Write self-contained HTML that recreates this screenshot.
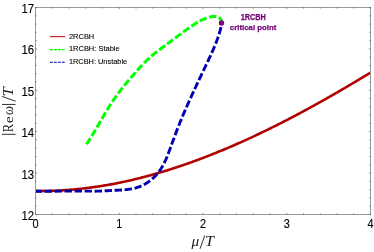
<!DOCTYPE html>
<html><head><meta charset="utf-8">
<style>
html,body{margin:0;padding:0;background:#fff;}
body{width:374px;height:252px;overflow:hidden;font-family:"Liberation Sans",sans-serif;}
svg{display:block;will-change:transform;opacity:0.999}
</style></head><body>
<svg width="374" height="252" viewBox="0 0 374 252">
<rect width="374" height="252" fill="#fff"/>
<g fill="none" stroke-linecap="butt">
<path d="M35.46 191.09 L36.67 191.10 L37.87 191.10 L39.08 191.10 L40.29 191.09 L41.50 191.08 L42.71 191.07 L43.92 191.05 L45.13 191.03 L46.34 191.01 L47.54 190.98 L48.75 190.95 L49.96 190.91 L51.17 190.87 L52.37 190.83 L53.58 190.78 L54.78 190.73 L55.99 190.68 L57.20 190.62 L58.40 190.56 L59.61 190.50 L60.81 190.43 L62.01 190.35 L63.22 190.28 L64.42 190.20 L65.62 190.12 L66.83 190.03 L68.03 189.94 L69.23 189.85 L70.43 189.75 L71.63 189.65 L72.83 189.54 L74.03 189.43 L75.23 189.32 L76.43 189.21 L77.63 189.09 L78.83 188.97 L80.03 188.84 L81.22 188.71 L82.42 188.58 L83.62 188.44 L84.81 188.30 L86.01 188.16 L87.20 188.01 L88.40 187.86 L89.59 187.70 L90.78 187.55 L91.98 187.39 L93.17 187.22 L94.36 187.05 L95.55 186.88 L96.74 186.71 L97.93 186.53 L99.12 186.35 L100.31 186.16 L101.50 185.98 L102.69 185.78 L103.87 185.59 L105.06 185.39 L106.25 185.19 L107.43 184.98 L108.61 184.77 L109.80 184.56 L110.98 184.35 L112.16 184.13 L113.35 183.91 L114.53 183.68 L115.71 183.45 L116.89 183.22 L118.07 182.99 L119.25 182.75 L120.42 182.51 L121.60 182.26 L122.78 182.01 L123.96 181.76 L125.13 181.51 L126.31 181.25 L127.48 180.99 L128.65 180.73 L129.83 180.46 L131.00 180.19 L132.17 179.92 L133.34 179.64 L134.51 179.36 L135.68 179.08 L136.85 178.80 L138.02 178.51 L139.18 178.22 L140.35 177.92 L141.51 177.63 L142.68 177.33 L143.84 177.03 L145.01 176.72 L146.17 176.41 L147.33 176.10 L148.49 175.79 L149.66 175.47 L150.82 175.15 L151.98 174.83 L153.13 174.51 L154.29 174.18 L155.45 173.85 L156.61 173.52 L157.76 173.18 L158.92 172.84 L160.07 172.50 L161.23 172.16 L162.38 171.81 L163.53 171.46 L164.68 171.11 L165.83 170.76 L166.98 170.40 L168.13 170.04 L169.28 169.68 L170.43 169.32 L171.58 168.95 L172.72 168.59 L173.87 168.21 L175.01 167.84 L176.16 167.47 L177.30 167.09 L178.44 166.71 L179.58 166.32 L180.73 165.94 L181.87 165.55 L183.01 165.16 L184.14 164.77 L185.28 164.37 L186.42 163.98 L187.56 163.58 L188.69 163.18 L189.83 162.77 L190.96 162.37 L192.09 161.96 L193.23 161.55 L194.36 161.14 L195.49 160.73 L196.62 160.31 L197.75 159.89 L198.88 159.47 L200.00 159.05 L201.13 158.62 L202.26 158.20 L203.38 157.77 L204.51 157.34 L205.63 156.91 L206.76 156.47 L207.88 156.04 L209.00 155.60 L210.12 155.16 L211.24 154.72 L212.36 154.27 L213.48 153.83 L214.59 153.38 L215.71 152.93 L216.83 152.48 L217.94 152.02 L219.06 151.57 L220.17 151.11 L221.28 150.65 L222.40 150.19 L223.51 149.73 L224.62 149.26 L225.73 148.80 L226.84 148.33 L227.95 147.86 L229.05 147.39 L230.16 146.91 L231.27 146.44 L232.37 145.96 L233.48 145.48 L234.58 145.00 L235.69 144.52 L236.79 144.04 L237.89 143.55 L238.99 143.06 L240.09 142.57 L241.19 142.08 L242.29 141.59 L243.39 141.10 L244.49 140.60 L245.58 140.10 L246.68 139.60 L247.77 139.10 L248.87 138.60 L249.96 138.10 L251.06 137.59 L252.15 137.09 L253.24 136.58 L254.33 136.07 L255.42 135.56 L256.51 135.04 L257.60 134.53 L258.69 134.01 L259.78 133.49 L260.86 132.97 L261.95 132.45 L263.04 131.93 L264.12 131.41 L265.20 130.88 L266.29 130.36 L267.37 129.83 L268.45 129.30 L269.53 128.77 L270.62 128.23 L271.70 127.70 L272.78 127.17 L273.85 126.63 L274.93 126.09 L276.01 125.55 L277.09 125.01 L278.16 124.47 L279.24 123.93 L280.31 123.38 L281.39 122.84 L282.46 122.29 L283.53 121.74 L284.61 121.19 L285.68 120.64 L286.75 120.09 L287.82 119.53 L288.89 118.98 L289.96 118.42 L291.03 117.86 L292.09 117.30 L293.16 116.75 L294.23 116.18 L295.29 115.62 L296.36 115.06 L297.42 114.49 L298.49 113.93 L299.55 113.36 L300.61 112.79 L301.67 112.22 L302.74 111.65 L303.80 111.08 L304.86 110.51 L305.92 109.94 L306.98 109.36 L308.03 108.78 L309.09 108.21 L310.15 107.63 L311.21 107.05 L312.26 106.47 L313.32 105.89 L314.37 105.31 L315.43 104.72 L316.48 104.14 L317.53 103.56 L318.59 102.97 L319.64 102.38 L320.69 101.79 L321.74 101.21 L322.79 100.62 L323.84 100.02 L324.89 99.43 L325.94 98.84 L326.99 98.25 L328.03 97.65 L329.08 97.06 L330.13 96.46 L331.17 95.86 L332.22 95.27 L333.26 94.67 L334.30 94.07 L335.35 93.47 L336.39 92.86 L337.43 92.26 L338.47 91.66 L339.52 91.06 L340.56 90.45 L341.60 89.85 L342.64 89.24 L343.67 88.63 L344.71 88.03 L345.75 87.42 L346.79 86.81 L347.83 86.20 L348.86 85.59 L349.90 84.98 L350.93 84.37 L351.97 83.75 L353.00 83.14 L354.04 82.53 L355.07 81.91 L356.10 81.30 L357.13 80.68 L358.16 80.07 L359.20 79.45 L360.23 78.83 L361.26 78.21 L362.29 77.59 L363.32 76.98 L364.34 76.36 L365.37 75.74 L366.40 75.12 L367.43 74.49 L368.45 73.87 L369.48 73.25 L370.50 72.63" stroke="#b00000" stroke-width="2.6"/>
<path d="M86.48 144.26 L86.85 143.71 L87.21 143.16 L87.57 142.61 L87.94 142.06 L88.30 141.51 L88.65 140.96 L89.01 140.40 L89.37 139.85 L89.72 139.29 L90.07 138.74 L90.42 138.18 L90.77 137.62 L91.12 137.06 L91.47 136.50 L91.81 135.94 L92.15 135.38 L92.50 134.82 L92.84 134.26 L93.18 133.70 L93.52 133.13 L93.86 132.57 L94.20 132.01 L94.53 131.44 L94.87 130.88 L95.20 130.31 L95.54 129.75 L95.87 129.18 L96.21 128.61 L96.54 128.05 L96.87 127.48 L97.20 126.91 L97.53 126.34 L97.87 125.78 L98.20 125.21 L98.53 124.64 L98.86 124.07 L99.19 123.50 L99.52 122.94 L99.85 122.37 L100.17 121.80 L100.50 121.23 L100.83 120.66 L101.16 120.10 L101.49 119.53 L101.82 118.96 L102.15 118.39 L102.48 117.83 L102.81 117.26 L103.15 116.69 L103.48 116.12 L103.81 115.56 L104.14 114.99 L104.48 114.43 L104.81 113.86 L105.14 113.30 L105.48 112.73 L105.81 112.17 L106.15 111.61 L106.49 111.05 L106.83 110.48 L107.17 109.92 L107.51 109.36 L107.85 108.80 L108.19 108.24 L108.54 107.69 L108.88 107.13 L109.23 106.57 L109.57 106.02 L109.92 105.46 L110.27 104.91 L110.62 104.35 L110.98 103.80 L111.33 103.25 L111.69 102.70 L112.05 102.15 L112.41 101.60 L112.77 101.06 L113.13 100.51 L113.50 99.97 L113.86 99.42 L114.23 98.88 L114.60 98.34 L114.97 97.80 L115.35 97.26 L115.73 96.72 L116.10 96.19 L116.49 95.65 L116.87 95.12 L117.25 94.59 L117.64 94.06 L118.03 93.53 L118.43 93.00 L118.82 92.48 L119.22 91.95 L119.62 91.43 L120.02 90.91 L120.42 90.39 L120.83 89.87 L121.23 89.35 L121.64 88.84 L122.05 88.32 L122.46 87.81 L122.88 87.29 L123.29 86.78 L123.71 86.27 L124.13 85.76 L124.54 85.25 L124.96 84.74 L125.39 84.24 L125.81 83.73 L126.23 83.22 L126.65 82.72 L127.08 82.21 L127.50 81.71 L127.93 81.21 L128.36 80.70 L128.78 80.20 L129.21 79.70 L129.64 79.20 L130.07 78.70 L130.50 78.20 L130.93 77.70 L131.36 77.20 L131.78 76.70 L132.21 76.21 L132.64 75.71 L133.07 75.21 L133.50 74.71 L133.93 74.22 L134.36 73.72 L134.79 73.22 L135.22 72.73 L135.65 72.24 L136.08 71.74 L136.52 71.25 L136.95 70.76 L137.38 70.27 L137.82 69.78 L138.25 69.29 L138.69 68.80 L139.13 68.32 L139.57 67.83 L140.01 67.35 L140.45 66.87 L140.90 66.39 L141.34 65.91 L141.79 65.43 L142.24 64.96 L142.69 64.48 L143.14 64.01 L143.60 63.54 L144.05 63.07 L144.51 62.60 L144.97 62.14 L145.44 61.67 L145.90 61.21 L146.37 60.76 L146.84 60.30 L147.31 59.85 L147.79 59.39 L148.27 58.94 L148.75 58.50 L149.23 58.05 L149.72 57.61 L150.21 57.17 L150.70 56.73 L151.20 56.30 L151.70 55.87 L152.20 55.44 L152.71 55.02 L153.22 54.59 L153.73 54.17 L154.24 53.75 L154.76 53.33 L155.28 52.92 L155.80 52.51 L156.32 52.10 L156.84 51.69 L157.37 51.28 L157.90 50.88 L158.42 50.47 L158.95 50.07 L159.48 49.67 L160.02 49.27 L160.55 48.87 L161.08 48.47 L161.61 48.08 L162.15 47.68 L162.68 47.29 L163.21 46.90 L163.75 46.51 L164.28 46.11 L164.81 45.72 L165.34 45.33 L165.87 44.94 L166.40 44.55 L166.93 44.17 L167.46 43.78 L167.99 43.39 L168.51 43.00 L169.04 42.61 L169.56 42.22 L170.09 41.84 L170.61 41.45 L171.13 41.06 L171.65 40.67 L172.17 40.29 L172.69 39.90 L173.20 39.51 L173.72 39.13 L174.24 38.74 L174.76 38.35 L175.27 37.97 L175.79 37.58 L176.31 37.19 L176.83 36.81 L177.34 36.42 L177.86 36.03 L178.38 35.65 L178.90 35.26 L179.42 34.88 L179.94 34.49 L180.46 34.11 L180.98 33.72 L181.50 33.34 L182.03 32.95 L182.55 32.57 L183.08 32.18 L183.60 31.80 L184.13 31.41 L184.66 31.03 L185.19 30.65 L185.73 30.26 L186.26 29.88 L186.80 29.49 L187.34 29.11 L187.88 28.73 L188.42 28.34 L188.96 27.96 L189.51 27.58 L190.06 27.20 L190.61 26.81 L191.16 26.43 L191.72 26.05 L192.28 25.67 L192.84 25.30 L193.40 24.92 L193.97 24.55 L194.54 24.18 L195.11 23.81 L195.68 23.45 L196.26 23.10 L196.83 22.74 L197.41 22.40 L198.00 22.05 L198.58 21.72 L199.17 21.39 L199.76 21.06 L200.35 20.75 L200.94 20.44 L201.54 20.14 L202.14 19.84 L202.74 19.56 L203.35 19.28 L203.95 19.01 L204.56 18.76 L205.17 18.51 L205.79 18.27 L206.40 18.05 L207.02 17.83 L207.64 17.63 L208.27 17.44 L208.89 17.26 L209.52 17.09 L210.15 16.94 L210.79 16.80 L211.42 16.68 L212.06 16.57 L212.69 16.48 L213.31 16.42 L213.93 16.39 L214.55 16.38 L215.15 16.40 L215.74 16.45 L216.32 16.54 L216.88 16.67 L217.43 16.84 L217.96 17.05 L218.47 17.30 L218.96 17.60 L219.43 17.95 L219.87 18.35 L220.28 18.81 L220.67 19.32 L221.03 19.89 L221.35 20.53 L221.64 21.23 L221.90 21.99 L222.12 22.82" stroke="#00ff00" stroke-width="3.0" stroke-dasharray="7.35 2.65" stroke-dashoffset="0.15"/>
<path d="M35.50 191.20 L89.98 191.13 L90.79 191.15 L91.60 191.17 L92.41 191.18 L93.21 191.19 L94.01 191.19 L94.81 191.19 L95.61 191.18 L96.40 191.17 L97.19 191.16 L97.98 191.14 L98.76 191.12 L99.55 191.10 L100.33 191.07 L101.11 191.04 L101.89 191.01 L102.67 190.97 L103.45 190.94 L104.23 190.90 L105.01 190.86 L105.79 190.82 L106.57 190.78 L107.35 190.73 L108.13 190.69 L108.91 190.65 L109.69 190.60 L110.48 190.56 L111.26 190.52 L112.05 190.48 L112.84 190.44 L113.63 190.40 L114.42 190.36 L115.22 190.32 L116.02 190.28 L116.82 190.25 L117.62 190.21 L118.42 190.17 L119.22 190.13 L120.03 190.09 L120.83 190.04 L121.64 189.99 L122.44 189.94 L123.25 189.88 L124.05 189.82 L124.85 189.75 L125.65 189.68 L126.45 189.59 L127.25 189.51 L128.05 189.41 L128.84 189.30 L129.63 189.19 L130.42 189.06 L131.21 188.93 L131.99 188.78 L132.77 188.63 L133.54 188.46 L134.31 188.28 L135.08 188.08 L135.84 187.87 L136.60 187.65 L137.35 187.41 L138.09 187.16 L138.83 186.90 L139.57 186.62 L140.30 186.32 L141.02 186.02 L141.73 185.70 L142.44 185.36 L143.15 185.02 L143.84 184.66 L144.54 184.28 L145.22 183.90 L145.89 183.50 L146.56 183.09 L147.23 182.67 L147.88 182.24 L148.53 181.80 L149.16 181.34 L149.80 180.88 L150.42 180.40 L151.03 179.91 L151.64 179.41 L152.23 178.90 L152.82 178.38 L153.40 177.85 L153.97 177.31 L154.53 176.76 L155.09 176.21 L155.63 175.64 L156.16 175.06 L156.68 174.48 L157.20 173.88 L157.70 173.28 L158.19 172.67 L158.67 172.05 L159.14 171.42 L159.61 170.78 L160.06 170.14 L160.50 169.49 L160.93 168.83 L161.35 168.17 L161.76 167.50 L162.16 166.82 L162.56 166.14 L162.94 165.45 L163.32 164.75 L163.69 164.05 L164.05 163.35 L164.41 162.64 L164.76 161.92 L165.10 161.21 L165.43 160.48 L165.76 159.76 L166.09 159.03 L166.40 158.29 L166.72 157.56 L167.03 156.82 L167.33 156.08 L167.63 155.34 L167.93 154.59 L168.22 153.84 L168.51 153.09 L168.79 152.34 L169.07 151.59 L169.35 150.84 L169.63 150.09 L169.91 149.34 L170.18 148.58 L170.45 147.83 L170.73 147.08 L171.00 146.33 L171.27 145.58 L171.54 144.83 L171.81 144.08 L172.08 143.34 L172.35 142.59 L172.62 141.85 L172.89 141.11 L173.16 140.37 L173.43 139.63 L173.70 138.89 L173.98 138.15 L174.25 137.41 L174.52 136.68 L174.80 135.94 L175.07 135.21 L175.34 134.47 L175.62 133.74 L175.90 133.01 L176.17 132.27 L176.45 131.54 L176.73 130.81 L177.01 130.08 L177.29 129.35 L177.58 128.62 L177.86 127.89 L178.14 127.16 L178.43 126.43 L178.72 125.70 L179.01 124.97 L179.30 124.24 L179.59 123.51 L179.88 122.78 L180.18 122.05 L180.47 121.32 L180.77 120.59 L181.07 119.86 L181.37 119.13 L181.67 118.40 L181.98 117.68 L182.28 116.95 L182.59 116.22 L182.90 115.49 L183.20 114.76 L183.51 114.03 L183.82 113.30 L184.14 112.57 L184.45 111.84 L184.76 111.11 L185.08 110.38 L185.40 109.66 L185.71 108.93 L186.03 108.20 L186.35 107.47 L186.67 106.74 L186.99 106.02 L187.31 105.29 L187.64 104.56 L187.96 103.84 L188.28 103.11 L188.61 102.39 L188.93 101.66 L189.26 100.94 L189.59 100.21 L189.92 99.49 L190.24 98.77 L190.57 98.04 L190.90 97.32 L191.23 96.60 L191.56 95.88 L191.89 95.16 L192.22 94.44 L192.56 93.72 L192.89 93.00 L193.22 92.28 L193.55 91.56 L193.89 90.84 L194.22 90.12 L194.55 89.40 L194.89 88.69 L195.22 87.97 L195.56 87.25 L195.89 86.54 L196.23 85.82 L196.56 85.11 L196.90 84.39 L197.24 83.67 L197.57 82.96 L197.91 82.25 L198.25 81.53 L198.58 80.82 L198.92 80.10 L199.26 79.39 L199.60 78.67 L199.93 77.96 L200.27 77.25 L200.61 76.53 L200.95 75.82 L201.29 75.11 L201.62 74.39 L201.96 73.68 L202.30 72.97 L202.64 72.25 L202.98 71.54 L203.32 70.82 L203.65 70.11 L203.99 69.40 L204.33 68.68 L204.67 67.97 L205.01 67.25 L205.35 66.54 L205.69 65.83 L206.02 65.11 L206.36 64.40 L206.70 63.68 L207.04 62.96 L207.38 62.25 L207.71 61.53 L208.05 60.82 L208.39 60.10 L208.72 59.38 L209.06 58.67 L209.40 57.95 L209.73 57.23 L210.07 56.51 L210.40 55.79 L210.73 55.07 L211.06 54.35 L211.39 53.63 L211.72 52.91 L212.05 52.18 L212.37 51.46 L212.69 50.74 L213.01 50.01 L213.33 49.29 L213.65 48.56 L213.96 47.83 L214.27 47.10 L214.57 46.37 L214.88 45.64 L215.18 44.91 L215.48 44.17 L215.77 43.44 L216.06 42.70 L216.35 41.97 L216.63 41.23 L216.91 40.49 L217.18 39.75 L217.45 39.00 L217.72 38.26 L217.98 37.52 L218.23 36.77 L218.49 36.02 L218.73 35.27 L218.97 34.52 L219.21 33.76 L219.44 33.01 L219.66 32.25 L219.88 31.49 L220.09 30.73 L220.30 29.97 L220.50 29.20 L220.69 28.43 L220.88 27.66 L221.06 26.89 L221.23 26.12 L221.40 25.35 L221.56 24.57 L221.71 23.79 L221.86 23.01" stroke="#0000b0" stroke-width="2.9" stroke-dasharray="7.38 2.64" stroke-dashoffset="1.02"/>
</g>
<circle cx="221.5" cy="23" r="2.7" fill="#800080"/>
<rect x="35.5" y="7.5" width="335.0" height="207.0" fill="none" stroke="#9a9a9a" stroke-width="1"/>
<path d="M35.50 215.00 v-2.20 M35.50 7.00 v2.20 M52.25 215.00 v-1.70 M52.25 7.00 v1.70 M69.00 215.00 v-1.70 M69.00 7.00 v1.70 M85.75 215.00 v-1.70 M85.75 7.00 v1.70 M102.50 215.00 v-1.70 M102.50 7.00 v1.70 M119.25 215.00 v-2.20 M119.25 7.00 v2.20 M136.00 215.00 v-1.70 M136.00 7.00 v1.70 M152.75 215.00 v-1.70 M152.75 7.00 v1.70 M169.50 215.00 v-1.70 M169.50 7.00 v1.70 M186.25 215.00 v-1.70 M186.25 7.00 v1.70 M203.00 215.00 v-2.20 M203.00 7.00 v2.20 M219.75 215.00 v-1.70 M219.75 7.00 v1.70 M236.50 215.00 v-1.70 M236.50 7.00 v1.70 M253.25 215.00 v-1.70 M253.25 7.00 v1.70 M270.00 215.00 v-1.70 M270.00 7.00 v1.70 M286.75 215.00 v-2.20 M286.75 7.00 v2.20 M303.50 215.00 v-1.70 M303.50 7.00 v1.70 M320.25 215.00 v-1.70 M320.25 7.00 v1.70 M337.00 215.00 v-1.70 M337.00 7.00 v1.70 M353.75 215.00 v-1.70 M353.75 7.00 v1.70 M370.50 215.00 v-2.20 M370.50 7.00 v2.20 M35.00 214.50 h2.20 M371.00 214.50 h-2.20 M35.00 206.22 h1.70 M371.00 206.22 h-1.70 M35.00 197.94 h1.70 M371.00 197.94 h-1.70 M35.00 189.66 h1.70 M371.00 189.66 h-1.70 M35.00 181.38 h1.70 M371.00 181.38 h-1.70 M35.00 173.10 h2.20 M371.00 173.10 h-2.20 M35.00 164.82 h1.70 M371.00 164.82 h-1.70 M35.00 156.54 h1.70 M371.00 156.54 h-1.70 M35.00 148.26 h1.70 M371.00 148.26 h-1.70 M35.00 139.98 h1.70 M371.00 139.98 h-1.70 M35.00 131.70 h2.20 M371.00 131.70 h-2.20 M35.00 123.42 h1.70 M371.00 123.42 h-1.70 M35.00 115.14 h1.70 M371.00 115.14 h-1.70 M35.00 106.86 h1.70 M371.00 106.86 h-1.70 M35.00 98.58 h1.70 M371.00 98.58 h-1.70 M35.00 90.30 h2.20 M371.00 90.30 h-2.20 M35.00 82.02 h1.70 M371.00 82.02 h-1.70 M35.00 73.74 h1.70 M371.00 73.74 h-1.70 M35.00 65.46 h1.70 M371.00 65.46 h-1.70 M35.00 57.18 h1.70 M371.00 57.18 h-1.70 M35.00 48.90 h2.20 M371.00 48.90 h-2.20 M35.00 40.62 h1.70 M371.00 40.62 h-1.70 M35.00 32.34 h1.70 M371.00 32.34 h-1.70 M35.00 24.06 h1.70 M371.00 24.06 h-1.70 M35.00 15.78 h1.70 M371.00 15.78 h-1.70 M35.00 7.50 h2.20 M371.00 7.50 h-2.20" stroke="#6a6a6a" stroke-width="0.9" stroke-opacity="0.75" fill="none"/>
<g font-family="Liberation Sans, sans-serif" font-size="13px" fill="#000" stroke="#000" stroke-width="0.12">
<text x="34.2" y="220.00" text-anchor="end" textLength="12.7" lengthAdjust="spacingAndGlyphs">12</text>
<text x="34.2" y="178.60" text-anchor="end" textLength="12.7" lengthAdjust="spacingAndGlyphs">13</text>
<text x="34.2" y="137.20" text-anchor="end" textLength="12.7" lengthAdjust="spacingAndGlyphs">14</text>
<text x="34.2" y="95.80" text-anchor="end" textLength="12.7" lengthAdjust="spacingAndGlyphs">15</text>
<text x="34.2" y="54.40" text-anchor="end" textLength="12.7" lengthAdjust="spacingAndGlyphs">16</text>
<text x="34.2" y="13.00" text-anchor="end" textLength="12.7" lengthAdjust="spacingAndGlyphs">17</text>
<text x="35.50" y="228.3" text-anchor="middle" textLength="6.1" lengthAdjust="spacingAndGlyphs">0</text>
<text x="119.25" y="228.3" text-anchor="middle" textLength="6.1" lengthAdjust="spacingAndGlyphs">1</text>
<text x="203.00" y="228.3" text-anchor="middle" textLength="6.1" lengthAdjust="spacingAndGlyphs">2</text>
<text x="286.75" y="228.3" text-anchor="middle" textLength="6.1" lengthAdjust="spacingAndGlyphs">3</text>
<text x="370.50" y="228.3" text-anchor="middle" textLength="6.1" lengthAdjust="spacingAndGlyphs">4</text>
</g>
<g font-family="Liberation Sans, sans-serif" font-size="8px" fill="#000" stroke="#000" stroke-width="0.1">
<text x="68.9" y="38.6" textLength="25.4" lengthAdjust="spacingAndGlyphs">2RCBH</text>
<text x="68.9" y="51.2" textLength="50.8" lengthAdjust="spacingAndGlyphs">1RCBH: Stable</text>
<text x="68.9" y="64.1" textLength="58.3" lengthAdjust="spacingAndGlyphs">1RCBH: Unstable</text>
</g>
<g fill="none" stroke-width="1.1">
<path d="M50.0 36.6 H65.2" stroke="#c03030" stroke-width="1.25"/>
<path d="M50.0 49.6 H64.9" stroke="#00f400" stroke-dasharray="2.85 1.1"/>
<path d="M50.0 62.3 H64.9" stroke="#0000b0" stroke-dasharray="2.85 1.1"/>
</g>
<g font-family="Liberation Sans, sans-serif" font-size="8px" font-weight="bold" fill="#740074" stroke="#740074" stroke-width="0.25" stroke-linejoin="round">
<text x="240.7" y="19.5" font-size="8.8px" textLength="25.1" lengthAdjust="spacingAndGlyphs">1RCBH</text>
<text x="229.8" y="30.4" textLength="46.6" lengthAdjust="spacingAndGlyphs">critical point</text>
</g>
<g transform="translate(12.6 136) rotate(-90)" font-family="Liberation Serif, serif" fill="#1a1a1a"><path d="M1.7 3.0 V-10.6 M31.55 3.0 V-10.6 M34.8 3.0 L39.6 -10.6" stroke="#1a1a1a" stroke-width="0.9" fill="none"/><text transform="translate(3.64 0.00) scale(0.879 1.000)" font-size="14.30px">R</text><text transform="translate(12.68 0.00) scale(1.115 0.930)" font-size="14.30px">e</text><text transform="translate(20.98 0.00) scale(0.890 1.000)" font-size="14.30px" font-style="italic">ω</text><text transform="translate(39.51 0.00) scale(1.170 1.000)" font-size="14.30px" font-style="italic">T</text></g>
<g font-family="Liberation Serif, serif" fill="#1a1a1a"><path d="M200.0 248.8 L204.8 235.4" stroke="#1a1a1a" stroke-width="0.9" fill="none"/><text transform="translate(191.41 246.00) scale(1.072 0.950)" font-size="14.30px" font-style="italic">μ</text><text transform="translate(204.94 246.00) scale(1.156 1.000)" font-size="14.00px" font-style="italic">T</text></g>
</svg>
</body></html>
